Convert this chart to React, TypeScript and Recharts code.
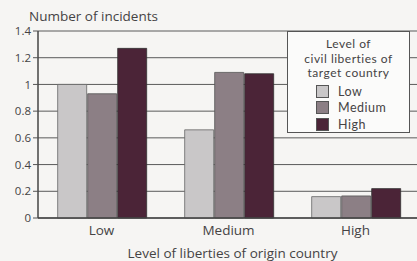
import React from "react";
import { BarChart, Bar, XAxis, YAxis, CartesianGrid, Legend } from "recharts";

const categories = ["Low", "Medium", "High"];
const lowTarget = [1.0, 0.66, 0.16];
const mediumTarget = [0.93, 1.09, 0.165];
const highTarget = [1.27, 1.08, 0.22];
const yTicks = [0, 0.2, 0.4, 0.6, 0.8, 1, 1.2, 1.4];
const seriesNames = ["Low", "Medium", "High"];
const legendTitle = ["Level of", "civil liberties of", "target country"];
const seriesColors = ["#c9c7c8", "#8c7f85", "#4b2437"];

const data = categories.map((c, i) => ({
  name: c,
  low: lowTarget[i],
  medium: mediumTarget[i],
  high: highTarget[i],
}));

const FONT = "'Open Sans', 'Noto Sans', sans-serif";
const LEGEND_FONT = "Lato, 'Open Sans', sans-serif";
const TEXT = "#454344";

const LegendBox = () => (
  <div
    style={{
      border: "1.5px solid #555",
      background: "#fbfbfa",
      width: 123,
      height: 102,
      boxSizing: "border-box",
      fontFamily: LEGEND_FONT,
      color: TEXT,
      fontSize: 12,
      letterSpacing: 0.5,
      paddingTop: 5,
    }}
  >
    {legendTitle.map((t) => (
      <div key={t} style={{ textAlign: "center", lineHeight: "14.6px", height: 14.6 }}>
        {t}
      </div>
    ))}
    <div style={{ marginTop: 2, marginLeft: 28 }}>
      {seriesNames.map((n, i) => (
        <div key={n} style={{ display: "flex", alignItems: "center", height: 16.5, fontSize: 12.5 }}>
          <span
            style={{
              display: "inline-block",
              width: 13,
              height: 13,
              background: seriesColors[i],
              border: "1px solid #555",
              boxSizing: "border-box",
              marginRight: 9,
            }}
          />
          <span>{n}</span>
        </div>
      ))}
    </div>
  </div>
);

const fmt = (v: number) => (v === 0 ? "0" : v === 1 ? "1" : String(v));

export default function App() {
  return (
    <div
      style={{
        position: "absolute",
        left: 0,
        top: 0,
        width: 417,
        height: 261,
        background: "#f6f5f3",
        overflow: "hidden",
      }}
    >
      <BarChart
        width={419}
        height={261}
        data={data}
        margin={{ top: 31, right: 0, left: 0, bottom: 0 }}
        barCategoryGap="15.5%"
        barGap={1}
      >
        <CartesianGrid vertical={false} stroke="#5a5a5a" strokeWidth={1} />
        <XAxis
          dataKey="name"
          axisLine={{ stroke: "#444", strokeWidth: 1.5 }}
          tickLine={false}
          tick={{ fill: TEXT, fontSize: 13.5, fontFamily: FONT }}
          tickMargin={1}
          height={43}
          label={{
            value: "Level of liberties of origin country",
            position: "insideBottom",
            offset: 3,
            dx: 4,
            fill: TEXT,
            fontSize: 13.5,
            fontFamily: FONT,
          }}
        />
        <YAxis
          width={38}
          domain={[0, 1.4]}
          ticks={yTicks}
          tickFormatter={fmt}
          axisLine={{ stroke: "#444", strokeWidth: 1.5 }}
          tickLine={{ stroke: "#555" }}
          tickSize={5}
          tick={{ fill: TEXT, fontSize: 11.5, fontFamily: FONT }}
          interval={0}
          label={{
            value: "Number of incidents",
            position: "insideTopLeft",
            content: () => (
              <text x={29} y={21} fill={TEXT} fontSize={13.5} fontFamily={FONT}>
                Number of incidents
              </text>
            ),
          }}
        />
        <Legend
          layout="horizontal"
          align="center"
          verticalAlign="middle"
          content={() => <LegendBox />}
          wrapperStyle={{ position: "absolute", top: 31, left: 287, width: 123 }}
        />
        <Bar dataKey="low" name="Low" fill={seriesColors[0]} stroke="#666" strokeWidth={0.8} isAnimationActive={false} />
        <Bar dataKey="medium" name="Medium" fill={seriesColors[1]} stroke="#555" strokeWidth={0.8} isAnimationActive={false} />
        <Bar dataKey="high" name="High" fill={seriesColors[2]} stroke="#333" strokeWidth={0.8} isAnimationActive={false} />
      </BarChart>
    </div>
  );
}
